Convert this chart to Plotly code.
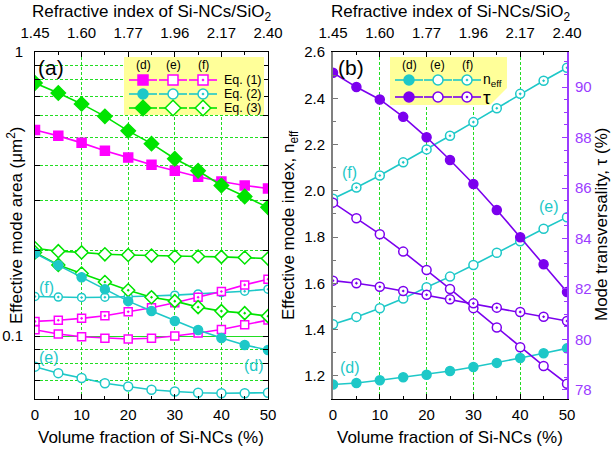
import plotly.graph_objects as go

# ---------------- data ----------------
vf = [0, 5, 10, 15, 20, 25, 30, 35, 40, 45, 50]
top_ticks = [0, 10, 20, 30, 40, 50]
top_labels = ["1.45", "1.60", "1.77", "1.96", "2.17", "2.40"]

# panel (a): effective mode area (um^2)
eq1_d = [0.532, 0.507, 0.479, 0.449, 0.425, 0.401, 0.382, 0.364, 0.350, 0.339, 0.331]
eq1_e = [0.1052, 0.1016, 0.0994, 0.0982, 0.0976, 0.0982, 0.1000, 0.1025, 0.1055, 0.1096, 0.1138]
eq1_f = [0.1126, 0.1136, 0.1154, 0.1178, 0.1217, 0.1257, 0.1309, 0.1370, 0.1435, 0.1514, 0.1585]
eq2_d = [0.1955, 0.1775, 0.161, 0.146, 0.1327, 0.1224, 0.113, 0.105, 0.0984, 0.093, 0.0893]
eq2_e = [0.078, 0.074, 0.0711, 0.0682, 0.0664, 0.0647, 0.0638, 0.0631, 0.0629, 0.0629, 0.0631]
eq2_f = [0.1378, 0.1372, 0.1367, 0.1370, 0.1374, 0.1383, 0.1393, 0.1407, 0.1423, 0.1438, 0.1462]
eq3_d = [0.778, 0.718, 0.657, 0.594, 0.528, 0.476, 0.421, 0.382, 0.339, 0.310, 0.284]
eq3_e = [0.2037, 0.199, 0.197, 0.194, 0.193, 0.192, 0.1905, 0.1905, 0.190, 0.189, 0.1874]
eq3_f = [0.197, 0.178, 0.166, 0.155, 0.145, 0.137, 0.1327, 0.1264, 0.1224, 0.1204, 0.1175]

# panel (b): effective mode index and mode transversality (%)
neff_d = [1.163, 1.169, 1.181, 1.194, 1.205, 1.221, 1.238, 1.256, 1.277, 1.298, 1.319]
neff_e = [1.423, 1.455, 1.492, 1.534, 1.583, 1.629, 1.679, 1.732, 1.782, 1.836, 1.886]
neff_f = [1.966, 2.014, 2.066, 2.123, 2.179, 2.238, 2.297, 2.357, 2.419, 2.476, 2.532]
tau_d = [90.57, 90.00, 89.51, 88.82, 88.01, 87.11, 86.16, 85.13, 84.05, 82.98, 81.88]
tau_e = [85.42, 84.80, 84.17, 83.48, 82.75, 82.00, 81.24, 80.47, 79.69, 78.95, 78.24]
tau_f = [82.33, 82.23, 82.09, 81.92, 81.77, 81.59, 81.43, 81.26, 81.09, 80.90, 80.73]

# ---------------- styles ----------------
MAG = "#ff00ff"
CYA = "#1ec8c8"
GRN = "#00e400"
PUR = "#7b00ee"
PUR_AX = "#9b3cff"
GRID = "#22dd22"
FONT = "Arial, Liberation Sans, sans-serif"
W, H = 611, 451
TITLE_SIZE = 17
TICK_SIZE = 15

fig = go.Figure()

def sym(kind, variant):
    if variant == "f":
        return kind + "-dot"
    return kind

def add_series(x, y, color, kind, variant, xa, ya, size):
    filled = variant == "d"
    fig.add_trace(go.Scatter(
        x=x, y=y, xaxis=xa, yaxis=ya, mode="lines+markers",
        line=dict(color=color, width=1.6),
        marker=dict(symbol=sym(kind, variant), size=size,
                    color=color if filled else "white",
                    line=dict(color=color, width=1.5)),
        showlegend=False, hoverinfo="skip"))

# panel (a)
add_series(vf, eq2_e, CYA, "circle", "e", "x", "y", 9)
add_series(vf, eq2_f, CYA, "circle", "f", "x", "y", 8)
add_series(vf, eq1_e, MAG, "square", "e", "x", "y", 8)
add_series(vf, eq1_f, MAG, "square", "f", "x", "y", 8)
add_series(vf, eq3_e, GRN, "diamond", "e", "x", "y", 10)
add_series(vf, eq3_f, GRN, "diamond", "f", "x", "y", 10)
add_series(vf, eq2_d, CYA, "circle", "d", "x", "y", 9)
add_series(vf, eq1_d, MAG, "square", "d", "x", "y", 9)
add_series(vf, eq3_d, GRN, "diamond", "d", "x", "y", 11)

# panel (b)
add_series(vf, neff_d, CYA, "circle", "d", "x2", "y2", 9)
add_series(vf, neff_e, CYA, "circle", "e", "x2", "y2", 9)
add_series(vf, neff_f, CYA, "circle", "f", "x2", "y2", 9)
add_series(vf, tau_d, PUR, "circle", "d", "x2", "y3", 9)
add_series(vf, tau_e, PUR, "circle", "e", "x2", "y3", 9)
add_series(vf, tau_f, PUR, "circle", "f", "x2", "y3", 9)

# dummy traces so the top axes render
fig.add_trace(go.Scatter(x=[None], y=[None], xaxis="x3", yaxis="y", showlegend=False))
fig.add_trace(go.Scatter(x=[None], y=[None], xaxis="x4", yaxis="y2", showlegend=False))

# ---------------- legends (pixel overlay) ----------------
def box(xs, ys):
    fig.add_trace(go.Scatter(x=xs, y=ys, xaxis="x5", yaxis="y5", mode="lines",
                             fill="toself", fillcolor="#ffff99", line=dict(width=0),
                             showlegend=False, hoverinfo="skip"))

def legend_row(xc_list, yrow, color, kind):
    for xc, v in zip(xc_list, ["d", "e", "f"]):
        fig.add_trace(go.Scatter(x=[xc - 14, xc + 14], y=[yrow, yrow], xaxis="x5", yaxis="y5",
                                 mode="lines", line=dict(color=color, width=1.6),
                                 showlegend=False, hoverinfo="skip"))
        fig.add_trace(go.Scatter(x=[xc], y=[yrow], xaxis="x5", yaxis="y5", mode="markers",
                                 marker=dict(symbol=sym(kind, v), size=10 if kind != "diamond" else 12,
                                             color=color if v == "d" else "white",
                                             line=dict(color=color, width=1.5)),
                                 showlegend=False, hoverinfo="skip"))

box([124, 264, 264, 124, 124], [57, 57, 115, 115, 57])
legA_x = [143, 173, 203]
legend_row(legA_x, 80, MAG, "square")
legend_row(legA_x, 94, CYA, "circle")
legend_row(legA_x, 108, GRN, "diamond")

box([390, 507, 507, 490, 390, 390], [57, 57, 88, 105, 105, 57])
legB_x = [409, 438, 467]
legend_row(legB_x, 80, CYA, "circle")
legend_row(legB_x, 97, PUR, "circle")

annotations = []
def ann(text, x, y, size=14, color="black", angle=0, xanchor="center"):
    annotations.append(dict(text=text, x=x / W, y=1 - y / H, xref="paper", yref="paper",
                            showarrow=False, font=dict(size=size, color=color, family=FONT),
                            textangle=angle, xanchor=xanchor, yanchor="middle"))

for xc, t in zip(legA_x, ["(d)", "(e)", "(f)"]):
    ann(t, xc, 65, 12)
for xc, t in zip(legB_x, ["(d)", "(e)", "(f)"]):
    ann(t, xc, 65, 12)
ann("Eq. (1)", 222, 80, 12.5, xanchor="left")
ann("Eq. (2)", 222, 94, 12.5, xanchor="left")
ann("Eq. (3)", 222, 108, 12.5, xanchor="left")
ann("n<sub>eff</sub>", 481, 80, 14, xanchor="left")
ann("τ", 481, 97, 19, xanchor="left")

# panel labels
ann("(a)", 51, 67, 21)
ann("(b)", 351, 67, 21)
ann("(f)", 46, 287, 16, CYA)
ann("(e)", 49, 357, 16, CYA)
ann("(d)", 254, 365, 16, CYA)
ann("(f)", 349, 172, 16, CYA)
ann("(e)", 549, 206, 16, CYA)
ann("(d)", 350, 367, 16, CYA)

# axis titles
ann("Refractive index of Si-NCs/SiO<sub>2</sub>", 151, 13, TITLE_SIZE)
ann("Refractive index of Si-NCs/SiO<sub>2</sub>", 450, 13, TITLE_SIZE)
ann("Volume fraction of Si-NCs (%)", 151, 437, TITLE_SIZE)
ann("Volume fraction of Si-NCs (%)", 450, 437, TITLE_SIZE)
ann("Effective mode area (μm<sup>2</sup>)", 15, 225, TITLE_SIZE, angle=-90)
ann("Effective mode index, n<sub>eff</sub>", 290, 225, TITLE_SIZE, angle=-90)
ann("Mode transversality, τ (%)", 601, 225, TITLE_SIZE, angle=-90)

# ---------------- axes ----------------
domA = [35 / W, 268 / W]
domB = [333 / W, 567 / W]
domY = [1 - 399 / H, 1 - 52 / H]
tickfont = dict(size=TICK_SIZE, family=FONT, color="black")
minor_x = dict(tickvals=[5, 15, 25, 35, 45], ticks="inside", ticklen=3, tickcolor="black")

def xbottom(dom, anchor):
    return dict(domain=dom, anchor=anchor, range=[0, 50], tickvals=top_ticks,
                ticks="inside", ticklen=5, tickcolor="black", showline=True, linecolor="black",
                linewidth=1, mirror=True, showgrid=True, gridcolor=GRID, griddash="3px,2px",
                gridwidth=1, zeroline=False, tickfont=tickfont, minor=minor_x,
                ticklabelstandoff=2, automargin=False)

def xtop(overlay, anchor):
    return dict(overlaying=overlay, anchor=anchor, side="top", range=[0, 50], tickvals=top_ticks,
                ticktext=top_labels, ticks="inside", ticklen=5, tickcolor="black",
                showline=True, linecolor="black", showgrid=False, zeroline=False,
                tickfont=tickfont, minor=minor_x, ticklabelstandoff=7, automargin=False)

minor_a = [0.06, 0.07, 0.08, 0.09, 0.2, 0.3, 0.4, 0.5, 0.6, 0.7, 0.8, 0.9]

layout = dict(
    width=W, height=H, margin=dict(l=0, r=0, t=0, b=0, autoexpand=False),
    paper_bgcolor="white", plot_bgcolor="rgba(0,0,0,0)", showlegend=False,
    font=dict(family=FONT, size=14, color="black"),
    xaxis=xbottom(domA, "y"),
    xaxis2=xbottom(domB, "y2"),
    xaxis3=xtop("x", "y"),
    xaxis4=xtop("x2", "y2"),
    yaxis=dict(domain=domY, anchor="x", type="log", range=[-1.2218, 0.0004],
               tickvals=[0.1, 1], ticktext=["0.1", "1"], ticks="inside", ticklen=5,
               tickcolor="black", showline=True, linecolor="black", mirror="allticks",
               showgrid=True, gridcolor=GRID, gridwidth=1, zeroline=False, tickfont=tickfont,
               ticklabelstandoff=8, automargin=False,
               minor=dict(tickvals=minor_a, ticks="inside", ticklen=3, tickcolor="black",
                          showgrid=True, gridcolor=GRID, griddash="3px,2px", gridwidth=1)),
    yaxis2=dict(domain=domY, anchor="x2", range=[1.1, 2.6], dtick=0.2, tick0=1.2,
                tickformat=".1f", ticks="inside", ticklen=5, tickcolor="#777777",
                showline=True, linecolor="#808080", linewidth=2, showgrid=False, zeroline=False,
                tickfont=tickfont, ticklabelstandoff=3, automargin=False,
                minor=dict(dtick=0.1, tick0=1.1, ticks="inside", ticklen=3, tickcolor="#777777")),
    yaxis3=dict(overlaying="y2", anchor="x2", side="right", range=[77.64, 91.39],
                tickvals=[78, 80, 82, 84, 86, 88, 90], ticks="inside", ticklen=5,
                tickcolor=PUR_AX, showline=True, linecolor=PUR_AX, linewidth=2,
                showgrid=False, zeroline=False, automargin=False,
                tickfont=dict(size=TICK_SIZE, family=FONT, color=PUR_AX), ticklabelstandoff=3,
                minor=dict(dtick=0.5, tick0=78, ticks="inside", ticklen=3, tickcolor=PUR_AX)),
    xaxis5=dict(domain=[0, 1], anchor="y5", range=[0, W], visible=False, fixedrange=True),
    yaxis5=dict(domain=[0, 1], anchor="x5", range=[H, 0], visible=False, fixedrange=True),
    annotations=annotations,
)
fig.update_layout(**layout)
fig.write_html("out.html", config={"displayModeBar": False},
               post_script="document.body.style.margin='0';")
